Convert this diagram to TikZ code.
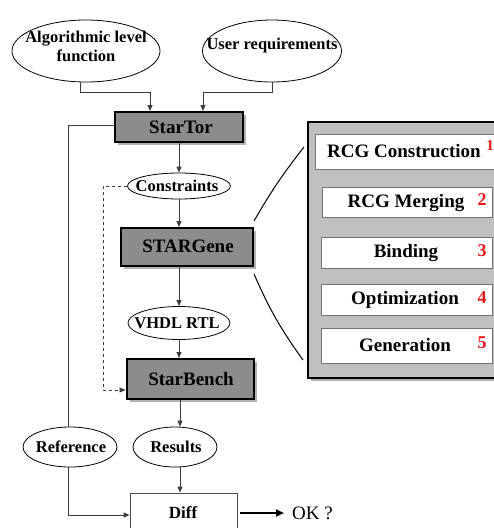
\documentclass[tikz,border=0pt]{standalone}
\usepackage{fontspec}
\setmainfont{Liberation Serif}
\usetikzlibrary{shapes.geometric,arrows.meta,shadows}
\definecolor{toolgray}{RGB}{140,140,140}
\definecolor{panelgray}{RGB}{192,192,192}
\definecolor{shadowgray}{RGB}{178,178,178}
\definecolor{numred}{RGB}{235,20,20}
\definecolor{linegray}{RGB}{60,60,60}
\begin{document}
\begin{tikzpicture}[x=1pt,y=-1pt,
  conn/.style={draw=linegray, line width=0.9pt, -{Triangle[length=6pt,width=5pt]}},
  wire/.style={draw=linegray, line width=0.9pt},
  tool/.style={rectangle, draw=black, line width=2pt, fill=toolgray, inner sep=0pt,
    drop shadow={shadow xshift=3pt, shadow yshift=-3pt, fill=shadowgray, opacity=1}},
  tooltext/.style={font=\fontsize{19}{21}\selectfont\bfseries, inner sep=0pt},
  ell/.style={ellipse, draw=black, line width=0.8pt, fill=white, inner sep=0pt},
  elltext/.style={font=\fontsize{16.5}{19}\selectfont\bfseries, align=center, inner sep=0pt},
  stepbox/.style={rectangle, draw=black!55, line width=0.8pt, fill=white, inner sep=0pt},
  steptext/.style={font=\fontsize{19}{21}\selectfont\bfseries, inner sep=0pt},
  num/.style={font=\fontsize{18}{20}\selectfont\bfseries, text=numred, inner sep=0pt}
]
\useasboundingbox (0,0) rectangle (494,528);
\clip (0,0) rectangle (494,528);
\fill[white] (0,0) rectangle (494,528);

% inputs
\node[ell, minimum width=148pt, minimum height=62pt] (alg) at (86,51) {};
\node[elltext] (algt) at (86,46) {Algorithmic level\\function};
\node[ell, minimum width=139pt, minimum height=62pt] (user) at (272,51) {};
\node[elltext] (usert) at (272,46) {User requirements};

% main flow
\node[tool, minimum width=128pt, minimum height=30pt] (startor) at (179,127) {};
\node[tooltext] (startort) at (181,127) {StarTor};

\node[ell, minimum width=103pt, minimum height=26pt] (cons) at (179,186) {};
\node[elltext] (const) at (177,186) {Constraints};

\node[tool, minimum width=132pt, minimum height=38pt] (gene) at (187,247) {};
\node[tooltext] (genet) at (188,246) {STARGene};

\node[ell, minimum width=102pt, minimum height=33pt] (vhdl) at (179,323) {};
\node[elltext] (vhdlt) at (177,323) {VHDL RTL};

\node[tool, minimum width=127pt, minimum height=40pt] (bench) at (190,379) {};
\node[tooltext] (bencht) at (191,379) {StarBench};

\node[ell, minimum width=94pt, minimum height=40pt] (ref) at (70,447) {};
\node[elltext] (reft) at (71,447) {Reference};
\node[ell, minimum width=84pt, minimum height=40pt] (res) at (175,447) {};
\node[elltext] (rest) at (176,447) {Results};

\node[rectangle, draw=black!70, line width=0.8pt, fill=white, minimum width=107pt, minimum height=44pt] (diff) at (183.5,515) {};
\node[font=\fontsize{17}{19}\selectfont\bfseries, inner sep=0pt] (difft) at (183,513) {Diff};
\node[font=\fontsize{19}{21}\selectfont, inner sep=0pt, anchor=west] (ok) at (292,513) {OK ?};

% connectors
\draw[conn] ([xshift=-6pt]alg.south) -- ++(0,10) -| ([xshift=-29pt]startor.north);
\draw[conn] (user.south) -- ++(0,10) -| ([xshift=24pt]startor.north);
\draw[conn] (startor.south -| cons.north) -- (cons.north);
\draw[conn] (cons.south) -- (cons.south |- gene.north);
\draw[conn] (vhdl.north |- gene.south) -- (vhdl.north);
\draw[conn] (vhdl.south) -- (vhdl.south |- bench.north);
\draw[conn] ([xshift=1pt]bench.south -| vhdl.south) -- ([xshift=1pt]res.north -| vhdl.south);
\draw[conn] ([xshift=1pt]res.south -| vhdl.south) -- ([xshift=1pt]diff.north -| vhdl.south);
\draw[conn, dashed] (cons.west) -- ++(-24,0) |- ([yshift=-11pt]bench.west);
\draw[wire] (startor.west |- 0,125) -| ([xshift=-2pt]ref.north);
\draw[conn] ([xshift=-2pt]ref.south) |- (diff.west);
\draw[line width=2pt, -{Triangle[length=8pt,width=7pt]}, shorten <=3pt, shorten >=8pt] ([yshift=2pt]diff.east) -- (ok.west);

% zoom panel
\node[rectangle, draw=black, line width=2.5pt, fill=panelgray, minimum width=202pt, minimum height=256pt,
  drop shadow={shadow xshift=3pt, shadow yshift=-3pt, fill=shadowgray, opacity=1}] (panel) at (409,250) {};
\coordinate (ztop) at (304,147);
\coordinate (zbot) at (303,360);
\draw[wire, black, line width=1pt] ([yshift=6pt]gene.north east) to[bend left=4] (ztop);
\draw[wire, black, line width=1pt] ([yshift=-7pt]gene.south east) to[bend right=6] (zbot);

\node[stepbox, minimum width=195pt, minimum height=35pt] (b1) at (412.5,151.5) {};
\node[steptext] (b1t) at (404,151) {RCG Construction};
\node[num, font=\fontsize{15}{17}\selectfont\bfseries] (n1) at (490,146) {1};

\node[stepbox, minimum width=170pt, minimum height=30pt] (b2) at (407,202) {};
\node[steptext] (b2t) at (406,203) {RCG Merging};
\node[num] (n2) at (482,200) {2};

\node[stepbox, minimum width=171pt, minimum height=31pt] (b3) at (406.5,252.5) {};
\node[steptext] (b3t) at (406,253) {Binding};
\node[num] (n3) at (482,251) {3};

\node[stepbox, minimum width=171pt, minimum height=31pt] (b4) at (406.5,299.5) {};
\node[steptext] (b4t) at (405,300) {Optimization};
\node[num] (n4) at (482,297.5) {4};

\node[stepbox, minimum width=171pt, minimum height=35pt] (b5) at (406.5,345.5) {};
\node[steptext] (b5t) at (405,345) {Generation};
\node[num] (n5) at (482,342.5) {5};
\end{tikzpicture}
\end{document}
